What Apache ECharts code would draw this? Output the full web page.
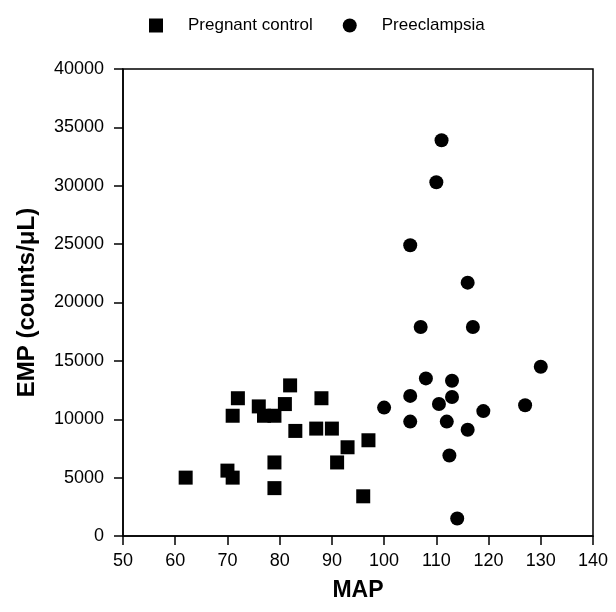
<!DOCTYPE html>
<html>
<head>
<meta charset="utf-8">
<script src="https://cdn.jsdelivr.net/npm/echarts@6/dist/echarts.min.js"></script>
<style>
  html, body { margin: 0; padding: 0; background: #fff; }
  #chart { width: 616px; height: 612px; }
</style>
</head>
<body>
<div id="chart"></div>
<script>
// MAP vs EMP
const controlMap = [62, 70, 71, 71, 72, 76, 77, 79, 79, 79, 81, 82, 83, 87, 88, 90, 91, 93, 97, 96];
const controlEmp = [5000, 5600, 5000, 10300, 11800, 11100, 10300, 10300, 6300, 4100, 11300, 12900, 9000, 9200, 11800, 9200, 6300, 7600, 8200, 3400];

const preMap = [111, 110, 105, 116, 107, 117, 130, 108, 113, 105, 113, 100, 110.5, 119, 127, 105, 112, 116, 112.5, 114];
const preEmp = [33900, 30300, 24900, 21700, 17900, 17900, 14500, 13500, 13300, 12000, 11900, 11000, 11300, 10700, 11200, 9800, 9800, 9100, 6900, 1500];

const xTicks = [50, 140, 10];
const yTicks = [0, 40000, 5000];

function pairs(xs, ys) {
  return xs.map((x, i) => [x, ys[i]]);
}

const font = "'Liberation Sans', Arial, sans-serif";
const chart = echarts.init(document.getElementById('chart'));

chart.setOption({
  backgroundColor: '#fff',
  animation: false,
  textStyle: { fontFamily: font, color: '#000' },
  legend: {
    left: 144,
    top: 12,
    itemWidth: 14,
    itemHeight: 14,
    itemGap: 30,
    textStyle: { fontSize: 17, color: '#000', padding: [0, 0, 0, 20] },
    data: [
      { name: 'Pregnant control', icon: 'rect' },
      { name: 'Preeclampsia', icon: 'circle' }
    ]
  },
  grid: {
    left: 123,
    right: 23,
    top: 69,
    bottom: 76,
    show: true,
    borderColor: '#000',
    borderWidth: 1.5
  },
  xAxis: {
    type: 'value',
    min: xTicks[0],
    max: xTicks[1],
    interval: xTicks[2],
    name: 'MAP',
    nameLocation: 'middle',
    nameGap: 43,
    nameTextStyle: { fontSize: 23, fontWeight: 'bold', color: '#000' },
    axisLine: { lineStyle: { color: '#000', width: 1.5 } },
    axisTick: { length: 9, lineStyle: { color: '#000', width: 1.5 } },
    axisLabel: { fontSize: 18, color: '#000', margin: 16 },
    splitLine: { show: false }
  },
  yAxis: {
    type: 'value',
    min: yTicks[0],
    max: yTicks[1],
    interval: yTicks[2],
    name: 'EMP (counts/\u03bcL)',
    nameLocation: 'middle',
    nameGap: 84,
    nameTextStyle: { fontSize: 24, fontWeight: 'bold', color: '#000' },
    axisLine: { lineStyle: { color: '#000', width: 1.5 } },
    axisTick: { length: 9, lineStyle: { color: '#000', width: 1.5 } },
    axisLabel: { fontSize: 18, color: '#000', margin: 19, formatter: v => String(v) },
    splitLine: { show: false }
  },
  series: [
    {
      name: 'Pregnant control',
      type: 'scatter',
      symbol: 'rect',
      symbolSize: 14,
      itemStyle: { color: '#000', opacity: 1 },
      data: pairs(controlMap, controlEmp)
    },
    {
      name: 'Preeclampsia',
      type: 'scatter',
      symbol: 'circle',
      symbolSize: 14,
      itemStyle: { color: '#000', opacity: 1 },
      data: pairs(preMap, preEmp)
    }
  ]
});
</script>
</body>
</html>
